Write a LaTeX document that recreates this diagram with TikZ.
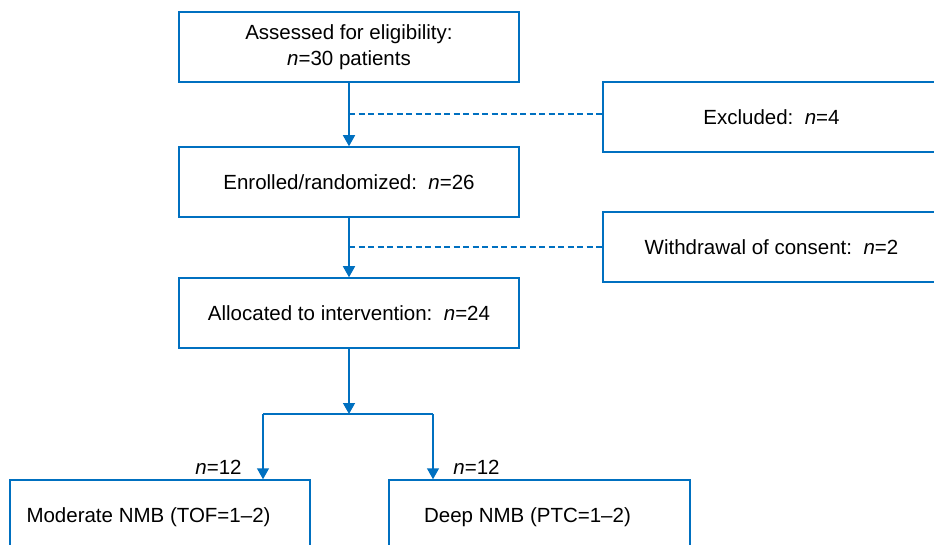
\documentclass[tikz,border=0pt]{standalone}
\usepackage{fontspec}
\setmainfont{Liberation Sans}
\usetikzlibrary{arrows.meta}
\definecolor{flowblue}{RGB}{0,112,192}
\begin{document}
\begin{tikzpicture}[x=1pt,y=-1pt,
  txt/.style={inner sep=0pt, align=center, font=\fontsize{20.5}{26}\selectfont, text=black},
  box/.style={txt, draw=flowblue, line width=1.5pt, minimum width=340pt, minimum height=70pt},
  sidebox/.style={box, minimum width=337pt},
  botbox/.style={box, minimum width=300pt},
  conn/.style={draw=flowblue, line width=1.5pt},
  arr/.style={conn, -{Triangle[width=12pt,length=11pt]}},
  dashline/.style={conn, line width=1.2pt, dash pattern=on 6pt off 3.5pt}]
\useasboundingbox (0,0) rectangle (934,545);
\clip (0,0) rectangle (934,545);
% main column
\node[box] (assess) at (349,47) {Assessed for eligibility:\\\textit{n}=30 patients};
\node[box] (enrol) at (349,182) {Enrolled/randomized:\ \ \textit{n}=26};
\node[box] (alloc) at (349,313) {Allocated to intervention:\ \ \textit{n}=24};
% side boxes
\node[sidebox] (excl) at (771.5,117) {Excluded:\ \ \textit{n}=4};
\node[sidebox] (withd) at (771.5,247) {Withdrawal of consent:\ \ \textit{n}=2};
% bottom boxes
\node[botbox] (modbox) at (160,515) {};
\node[botbox, minimum width=301pt] (deepbox) at (539.5,515) {};
\node[txt] (modtxt) at (148.5,517) {Moderate NMB (TOF=1–2)};
\node[txt] (deeptxt) at (527.5,517) {Deep NMB (PTC=1–2)};
% labels
\node[txt] (nl) at (218.5,467) {\textit{n}=12};
\node[txt] (nr) at (476.5,467) {\textit{n}=12};
% connectors
\draw[arr] (assess.south) -- (enrol.north);
\draw[arr] (enrol.south) -- (alloc.north);
\coordinate (d1) at (349,114);
\coordinate (d2) at (349,247);
\draw[dashline] (d1) -- (d1 -| excl.west);
\draw[dashline] (d2) -- (withd.west);
\coordinate (split) at (349,414);
\coordinate (bl) at (263,414);
\coordinate (br) at (433,414);
\draw[arr] (alloc.south) -- (split);
\draw[conn] (bl) -- (br);
\draw[arr] (bl) -- (bl |- modbox.north);
\draw[arr] (br) -- (br |- deepbox.north);
\end{tikzpicture}
\end{document}
